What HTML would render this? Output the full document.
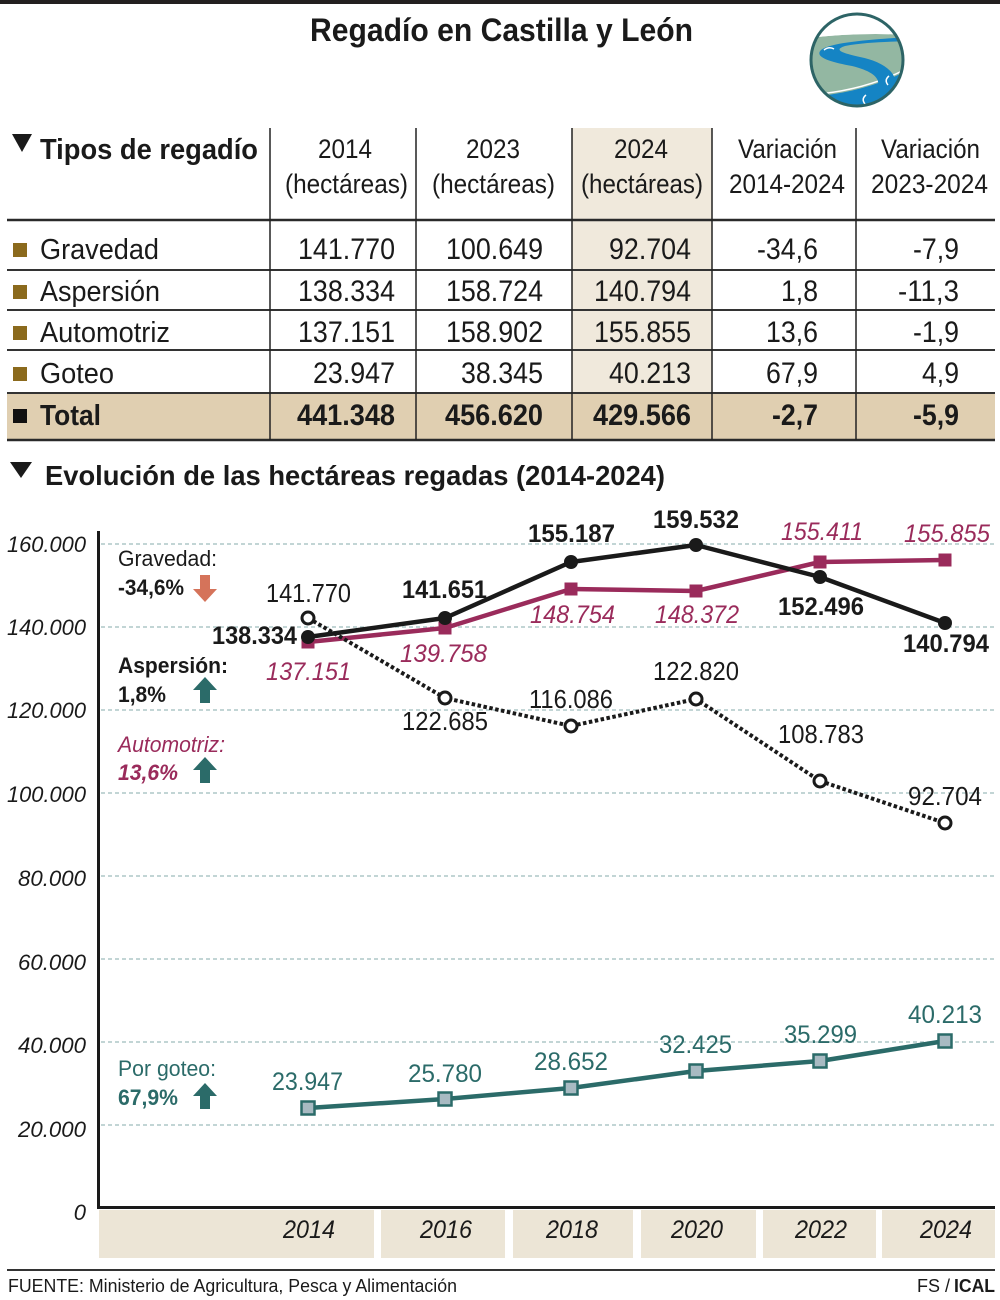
<!DOCTYPE html>
<html>
<head>
<meta charset="utf-8">
<style>
  html,body{margin:0;padding:0;background:#fff;}
  svg{display:block;}
  text{font-family:"Liberation Sans", Arial, sans-serif;}
</style>
</head>
<body>
<svg width="1000" height="1300" viewBox="0 0 1000 1300" xmlns="http://www.w3.org/2000/svg">
  <rect x="0" y="0" width="1000" height="1300" fill="#fff"/>
  <!-- top bar -->
  <rect x="0" y="0" width="1000" height="4" fill="#231f20"/>

  <!-- Title -->
  <text x="310" y="41" font-size="32" font-weight="bold" fill="#1a1a1a" textLength="383" lengthAdjust="spacingAndGlyphs">Regadío en Castilla y León</text>

  <!-- Logo -->
  <defs>
    <clipPath id="lc"><circle cx="857" cy="60" r="46"/></clipPath>
  </defs>
  <g clip-path="url(#lc)">
    <rect x="808" y="10" width="100" height="102" fill="#ffffff"/>
    <path d="M808,38 Q860,32 908,35 L908,112 L808,112 Z" fill="#93b7a2"/>
    <path d="M808,37 Q860,31 908,34" stroke="#ffffff" stroke-width="2" fill="none"/>
    <path d="M808,97 Q865,93 908,70 L908,112 L808,112 Z" fill="#1584c4"/>
    <path d="M808,95 Q865,91 908,68" stroke="#ffffff" stroke-width="1.5" fill="none"/>
    <path d="M906,37 C870,40 832,42 821,50 C814,57 830,62 852,66 C872,71 882,78 877,89 C872,99 860,104 862,112 L882,112 C880,104 893,96 895,86 C898,71 880,61 860,57 C842,53 833,50 845,46 C865,42 890,42 906,41 Z" fill="#1584c4"/>
    <path d="M824,50 q5,-4 10,-1" stroke="#fff" stroke-width="1.5" fill="none"/>
    <path d="M889,76 q-5,4 -1,9" stroke="#fff" stroke-width="1.5" fill="none"/>
    <path d="M866,95 q-5,4 -1,9" stroke="#fff" stroke-width="1.5" fill="none"/>
  </g>
  <circle cx="857" cy="60" r="46" fill="none" stroke="#2d6466" stroke-width="3"/>

  <!-- TABLE -->
  <rect x="572" y="128" width="140" height="265" fill="#f0e9dc"/>
  <rect x="7" y="393" width="988" height="47" fill="#e0cfb1"/>

  <!-- horizontal lines -->
  <line x1="7" y1="220" x2="995" y2="220" stroke="#2a2a2a" stroke-width="2.5"/>
  <line x1="7" y1="270" x2="995" y2="270" stroke="#333" stroke-width="2"/>
  <line x1="7" y1="310" x2="995" y2="310" stroke="#333" stroke-width="2"/>
  <line x1="7" y1="350" x2="995" y2="350" stroke="#333" stroke-width="2"/>
  <line x1="7" y1="393" x2="995" y2="393" stroke="#333" stroke-width="2"/>
  <line x1="7" y1="440" x2="995" y2="440" stroke="#2a2a2a" stroke-width="2.5"/>
  <!-- vertical lines -->
  <g stroke="#222" stroke-width="1.5">
    <line x1="270" y1="128" x2="270" y2="440"/>
    <line x1="416" y1="128" x2="416" y2="440"/>
    <line x1="572" y1="128" x2="572" y2="440"/>
    <line x1="712" y1="128" x2="712" y2="440"/>
    <line x1="856" y1="128" x2="856" y2="440"/>
  </g>

  <!-- header -->
  <polygon points="12,134 32,134 22,152" fill="#1a1a1a"/>
  <text x="40" y="159" font-size="29" font-weight="bold" fill="#1a1a1a" textLength="218" lengthAdjust="spacingAndGlyphs">Tipos de regadío</text>
  <g font-size="27" fill="#1a1a1a">
    <text x="318" y="158" textLength="54" lengthAdjust="spacingAndGlyphs">2014</text>
    <text x="285" y="193" textLength="123" lengthAdjust="spacingAndGlyphs">(hectáreas)</text>
    <text x="466" y="158" textLength="54" lengthAdjust="spacingAndGlyphs">2023</text>
    <text x="432" y="193" textLength="123" lengthAdjust="spacingAndGlyphs">(hectáreas)</text>
    <text x="614" y="158" textLength="54" lengthAdjust="spacingAndGlyphs">2024</text>
    <text x="581" y="193" textLength="122" lengthAdjust="spacingAndGlyphs">(hectáreas)</text>
    <text x="738" y="158" textLength="99" lengthAdjust="spacingAndGlyphs">Variación</text>
    <text x="729" y="193" textLength="116" lengthAdjust="spacingAndGlyphs">2014-2024</text>
    <text x="881" y="158" textLength="99" lengthAdjust="spacingAndGlyphs">Variación</text>
    <text x="871" y="193" textLength="117" lengthAdjust="spacingAndGlyphs">2023-2024</text>
  </g>

  <!-- rows -->
  <g fill="#8b6a1d">
    <rect x="13" y="243" width="14" height="14"/>
    <rect x="13" y="285" width="14" height="14"/>
    <rect x="13" y="326" width="14" height="14"/>
    <rect x="13" y="367" width="14" height="14"/>
  </g>
  <rect x="13" y="409" width="14" height="14" fill="#111"/>

  <g font-size="29" fill="#1a1a1a">
    <text x="40" y="259" textLength="119" lengthAdjust="spacingAndGlyphs">Gravedad</text>
    <text x="40" y="301" textLength="120" lengthAdjust="spacingAndGlyphs">Aspersión</text>
    <text x="40" y="342" textLength="130" lengthAdjust="spacingAndGlyphs">Automotriz</text>
    <text x="40" y="383" textLength="74" lengthAdjust="spacingAndGlyphs">Goteo</text>
    <text x="40" y="425" font-weight="bold" textLength="61" lengthAdjust="spacingAndGlyphs">Total</text>
  </g>

  <g font-size="30" fill="#1a1a1a" text-anchor="end">
    <!-- row 1 -->
    <text x="395" y="259" textLength="97" lengthAdjust="spacingAndGlyphs">141.770</text>
    <text x="543" y="259" textLength="97" lengthAdjust="spacingAndGlyphs">100.649</text>
    <text x="691" y="259" textLength="82" lengthAdjust="spacingAndGlyphs">92.704</text>
    <text x="818" y="259" textLength="61" lengthAdjust="spacingAndGlyphs">-34,6</text>
    <text x="959" y="259" textLength="46" lengthAdjust="spacingAndGlyphs">-7,9</text>
    <!-- row 2 -->
    <text x="395" y="301" textLength="97" lengthAdjust="spacingAndGlyphs">138.334</text>
    <text x="543" y="301" textLength="97" lengthAdjust="spacingAndGlyphs">158.724</text>
    <text x="691" y="301" textLength="97" lengthAdjust="spacingAndGlyphs">140.794</text>
    <text x="818" y="301" textLength="37" lengthAdjust="spacingAndGlyphs">1,8</text>
    <text x="959" y="301" textLength="61" lengthAdjust="spacingAndGlyphs">-11,3</text>
    <!-- row 3 -->
    <text x="395" y="342" textLength="97" lengthAdjust="spacingAndGlyphs">137.151</text>
    <text x="543" y="342" textLength="97" lengthAdjust="spacingAndGlyphs">158.902</text>
    <text x="691" y="342" textLength="97" lengthAdjust="spacingAndGlyphs">155.855</text>
    <text x="818" y="342" textLength="52" lengthAdjust="spacingAndGlyphs">13,6</text>
    <text x="959" y="342" textLength="46" lengthAdjust="spacingAndGlyphs">-1,9</text>
    <!-- row 4 -->
    <text x="395" y="383" textLength="82" lengthAdjust="spacingAndGlyphs">23.947</text>
    <text x="543" y="383" textLength="82" lengthAdjust="spacingAndGlyphs">38.345</text>
    <text x="691" y="383" textLength="82" lengthAdjust="spacingAndGlyphs">40.213</text>
    <text x="818" y="383" textLength="52" lengthAdjust="spacingAndGlyphs">67,9</text>
    <text x="959" y="383" textLength="37" lengthAdjust="spacingAndGlyphs">4,9</text>
    <!-- total -->
    <g font-weight="bold">
      <text x="395" y="425" textLength="98" lengthAdjust="spacingAndGlyphs">441.348</text>
      <text x="543" y="425" textLength="98" lengthAdjust="spacingAndGlyphs">456.620</text>
      <text x="691" y="425" textLength="98" lengthAdjust="spacingAndGlyphs">429.566</text>
      <text x="818" y="425" textLength="46" lengthAdjust="spacingAndGlyphs">-2,7</text>
      <text x="959" y="425" textLength="46" lengthAdjust="spacingAndGlyphs">-5,9</text>
    </g>
  </g>

  <!-- CHART TITLE -->
  <polygon points="10,462 32,462 21,478" fill="#1a1a1a"/>
  <text x="45" y="485" font-size="28" font-weight="bold" fill="#1a1a1a" textLength="620" lengthAdjust="spacingAndGlyphs">Evolución de las hectáreas regadas (2014-2024)</text>

  <!-- grid lines -->
  <g stroke="#9dbcbc" stroke-width="1.2" stroke-dasharray="4 3">
    <line x1="101" y1="544" x2="995" y2="544"/>
    <line x1="101" y1="627" x2="995" y2="627"/>
    <line x1="101" y1="710" x2="995" y2="710"/>
    <line x1="101" y1="793" x2="995" y2="793"/>
    <line x1="101" y1="876" x2="995" y2="876"/>
    <line x1="101" y1="959" x2="995" y2="959"/>
    <line x1="101" y1="1042" x2="995" y2="1042"/>
    <line x1="101" y1="1125" x2="995" y2="1125"/>
  </g>

  <!-- x bands -->
  <g fill="#ece5d6">
    <rect x="99" y="1210" width="275" height="48"/>
    <rect x="381" y="1210" width="124" height="48"/>
    <rect x="513" y="1210" width="120" height="48"/>
    <rect x="641" y="1210" width="115" height="48"/>
    <rect x="763" y="1210" width="113" height="48"/>
    <rect x="882" y="1210" width="113" height="48"/>
  </g>

  <!-- axes -->
  <line x1="98.5" y1="531" x2="98.5" y2="1209" stroke="#1a1a1a" stroke-width="3"/>
  <line x1="97" y1="1207.5" x2="995" y2="1207.5" stroke="#1a1a1a" stroke-width="3"/>

  <!-- y labels -->
  <g font-size="22" font-style="italic" fill="#1a1a1a" text-anchor="end">
    <text x="86" y="552" textLength="79" lengthAdjust="spacingAndGlyphs">160.000</text>
    <text x="86" y="635" textLength="79" lengthAdjust="spacingAndGlyphs">140.000</text>
    <text x="86" y="718" textLength="79" lengthAdjust="spacingAndGlyphs">120.000</text>
    <text x="86" y="802" textLength="79" lengthAdjust="spacingAndGlyphs">100.000</text>
    <text x="86" y="886" textLength="68" lengthAdjust="spacingAndGlyphs">80.000</text>
    <text x="86" y="970" textLength="68" lengthAdjust="spacingAndGlyphs">60.000</text>
    <text x="86" y="1053" textLength="68" lengthAdjust="spacingAndGlyphs">40.000</text>
    <text x="86" y="1137" textLength="68" lengthAdjust="spacingAndGlyphs">20.000</text>
    <text x="86" y="1220">0</text>
  </g>

  <!-- x labels -->
  <g font-size="25" font-style="italic" fill="#1a1a1a" text-anchor="middle">
    <text x="309" y="1238" textLength="52" lengthAdjust="spacingAndGlyphs">2014</text>
    <text x="446" y="1238" textLength="52" lengthAdjust="spacingAndGlyphs">2016</text>
    <text x="572" y="1238" textLength="52" lengthAdjust="spacingAndGlyphs">2018</text>
    <text x="697" y="1238" textLength="52" lengthAdjust="spacingAndGlyphs">2020</text>
    <text x="821" y="1238" textLength="52" lengthAdjust="spacingAndGlyphs">2022</text>
    <text x="946" y="1238" textLength="52" lengthAdjust="spacingAndGlyphs">2024</text>
  </g>

  <!-- left annotations -->
  <g font-size="22">
    <text x="118" y="566" fill="#1a1a1a" textLength="99" lengthAdjust="spacingAndGlyphs">Gravedad:</text>
    <text x="118" y="595" fill="#1a1a1a" font-weight="bold" textLength="66" lengthAdjust="spacingAndGlyphs">-34,6%</text>
    <text x="118" y="673" fill="#1a1a1a" font-weight="bold" textLength="110" lengthAdjust="spacingAndGlyphs">Aspersión:</text>
    <text x="118" y="702" fill="#1a1a1a" font-weight="bold" textLength="48" lengthAdjust="spacingAndGlyphs">1,8%</text>
    <text x="118" y="752" fill="#9a2b5b" font-style="italic" textLength="107" lengthAdjust="spacingAndGlyphs">Automotriz:</text>
    <text x="118" y="780" fill="#9a2b5b" font-style="italic" font-weight="bold" textLength="60" lengthAdjust="spacingAndGlyphs">13,6%</text>
    <text x="118" y="1076" fill="#2b6b69" textLength="98" lengthAdjust="spacingAndGlyphs">Por goteo:</text>
    <text x="118" y="1105" fill="#2b6b69" font-weight="bold" textLength="60" lengthAdjust="spacingAndGlyphs">67,9%</text>
  </g>
  <!-- arrows -->
  <polygon points="200,575 210,575 210,589 217,589 205,602 193,589 200,589" fill="#d5735a"/>
  <polygon points="205,677 217,690 210,690 210,703 200,703 200,690 193,690" fill="#2b6b69"/>
  <polygon points="205,757 217,770 210,770 210,783 200,783 200,770 193,770" fill="#2b6b69"/>
  <polygon points="205,1083 217,1096 210,1096 210,1109 200,1109 200,1096 193,1096" fill="#2b6b69"/>

  <!-- SERIES -->
  <!-- Automotriz (maroon) -->
  <polyline points="308,642 445,628 571,589 696,591 820,562 945,560" fill="none" stroke="#9a2b5b" stroke-width="4.5" stroke-linejoin="round"/>
  <g fill="#9a2b5b">
    <rect x="301.5" y="635.5" width="13" height="13"/>
    <rect x="438.5" y="621.5" width="13" height="13"/>
    <rect x="564.5" y="582.5" width="13" height="13"/>
    <rect x="689.5" y="584.5" width="13" height="13"/>
    <rect x="813.5" y="555.5" width="13" height="13"/>
    <rect x="938.5" y="553.5" width="13" height="13"/>
  </g>

  <!-- Aspersión (black) -->
  <polyline points="308,637 445,618 571,562 696,545 820,577 945,623" fill="none" stroke="#1a1a1a" stroke-width="4.5" stroke-linejoin="round"/>
  <g fill="#1a1a1a">
    <circle cx="308" cy="637" r="7"/>
    <circle cx="445" cy="618" r="7"/>
    <circle cx="571" cy="562" r="7"/>
    <circle cx="696" cy="545" r="7"/>
    <circle cx="820" cy="577" r="7"/>
    <circle cx="945" cy="623" r="7"/>
  </g>

  <!-- Gravedad (dotted) -->
  <polyline points="308,618 445,698 571,726 696,699 820,781 945,823" fill="none" stroke="#1a1a1a" stroke-width="4" stroke-dasharray="3.5 2.5"/>
  <g fill="#fff" stroke="#1a1a1a" stroke-width="3">
    <circle cx="308" cy="618" r="6"/>
    <circle cx="445" cy="698" r="6"/>
    <circle cx="571" cy="726" r="6"/>
    <circle cx="696" cy="699" r="6"/>
    <circle cx="820" cy="781" r="6"/>
    <circle cx="945" cy="823" r="6"/>
  </g>

  <!-- Goteo (teal) -->
  <polyline points="308,1108 445,1099 571,1088 696,1071 820,1061 945,1041" fill="none" stroke="#2b6b69" stroke-width="4.5" stroke-linejoin="round"/>
  <g fill="#a8bac2" stroke="#2b6b69" stroke-width="2.5">
    <rect x="301.5" y="1101.5" width="13" height="13"/>
    <rect x="438.5" y="1092.5" width="13" height="13"/>
    <rect x="564.5" y="1081.5" width="13" height="13"/>
    <rect x="689.5" y="1064.5" width="13" height="13"/>
    <rect x="813.5" y="1054.5" width="13" height="13"/>
    <rect x="938.5" y="1034.5" width="13" height="13"/>
  </g>

  <!-- DATA LABELS -->
  <g font-size="26" fill="#1a1a1a">
    <text x="266" y="602" textLength="85" lengthAdjust="spacingAndGlyphs">141.770</text>
    <text x="402" y="730" textLength="86" lengthAdjust="spacingAndGlyphs">122.685</text>
    <text x="529" y="708" textLength="84" lengthAdjust="spacingAndGlyphs">116.086</text>
    <text x="653" y="680" textLength="86" lengthAdjust="spacingAndGlyphs">122.820</text>
    <text x="778" y="743" textLength="86" lengthAdjust="spacingAndGlyphs">108.783</text>
    <text x="908" y="805" textLength="74" lengthAdjust="spacingAndGlyphs">92.704</text>
  </g>
  <g font-size="25" font-weight="bold" fill="#1a1a1a">
    <text x="212" y="644" textLength="85" lengthAdjust="spacingAndGlyphs">138.334</text>
    <text x="402" y="598" textLength="85" lengthAdjust="spacingAndGlyphs">141.651</text>
    <text x="528" y="542" textLength="87" lengthAdjust="spacingAndGlyphs">155.187</text>
    <text x="653" y="528" textLength="86" lengthAdjust="spacingAndGlyphs">159.532</text>
    <text x="778" y="615" textLength="86" lengthAdjust="spacingAndGlyphs">152.496</text>
    <text x="903" y="652" textLength="86" lengthAdjust="spacingAndGlyphs">140.794</text>
  </g>
  <g font-size="25" font-style="italic" fill="#9a2b5b">
    <text x="266" y="680" textLength="85" lengthAdjust="spacingAndGlyphs">137.151</text>
    <text x="400" y="662" textLength="87" lengthAdjust="spacingAndGlyphs">139.758</text>
    <text x="530" y="623" textLength="85" lengthAdjust="spacingAndGlyphs">148.754</text>
    <text x="655" y="623" textLength="84" lengthAdjust="spacingAndGlyphs">148.372</text>
    <text x="781" y="540" textLength="82" lengthAdjust="spacingAndGlyphs">155.411</text>
    <text x="904" y="542" textLength="86" lengthAdjust="spacingAndGlyphs">155.855</text>
  </g>
  <g font-size="25" fill="#2b6b69">
    <text x="272" y="1090" textLength="71" lengthAdjust="spacingAndGlyphs">23.947</text>
    <text x="408" y="1082" textLength="74" lengthAdjust="spacingAndGlyphs">25.780</text>
    <text x="534" y="1070" textLength="74" lengthAdjust="spacingAndGlyphs">28.652</text>
    <text x="659" y="1053" textLength="73" lengthAdjust="spacingAndGlyphs">32.425</text>
    <text x="784" y="1043" textLength="73" lengthAdjust="spacingAndGlyphs">35.299</text>
    <text x="908" y="1023" textLength="74" lengthAdjust="spacingAndGlyphs">40.213</text>
  </g>

  <!-- FOOTER -->
  <line x1="7" y1="1270" x2="995" y2="1270" stroke="#333" stroke-width="2"/>
  <text x="8" y="1292" font-size="18" fill="#1a1a1a" textLength="449" lengthAdjust="spacingAndGlyphs">FUENTE: Ministerio de Agricultura, Pesca y Alimentación</text>
  <text x="917" y="1292" font-size="18" fill="#1a1a1a" textLength="33" lengthAdjust="spacingAndGlyphs">FS /</text>
  <text x="954" y="1292" font-size="18" font-weight="bold" fill="#1a1a1a" textLength="41" lengthAdjust="spacingAndGlyphs">ICAL</text>
</svg>
</body>
</html>
